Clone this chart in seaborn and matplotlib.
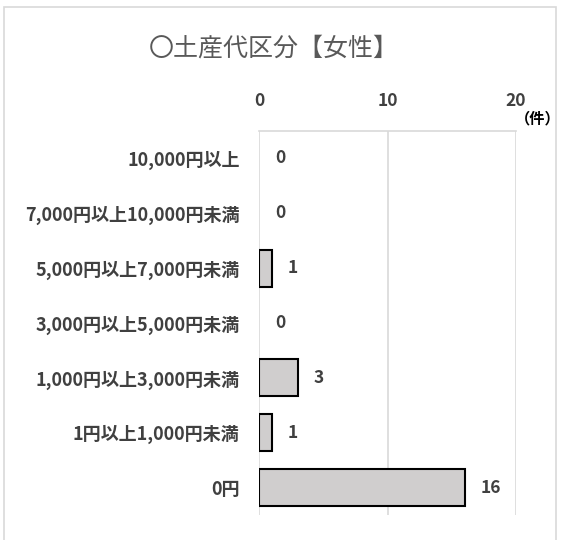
import matplotlib
matplotlib.use("Agg")
import matplotlib.pyplot as plt
import seaborn as sns
import pandas as pd
from matplotlib.patches import Rectangle

categories = ["10,000円以上", "7,000円以上10,000円未満", "5,000円以上7,000円未満",
              "3,000円以上5,000円未満", "1,000円以上3,000円未満", "1円以上1,000円未満", "0円"]
values = [0, 0, 1, 0, 3, 1, 16]
x_ticks = [0, 10, 20]
title = "〇土産代区分【女性】"
unit_label = "（件）"

sns.set_theme(style="white")
plt.rcParams['font.family'] = ['Noto Sans CJK JP', 'DejaVu Sans']

df = pd.DataFrame({"category": categories, "value": values})

fig = plt.figure(figsize=(5.61, 5.40), dpi=100)
ax = fig.add_axes([259/561, 1-515/540, (516-259)/561, (515-131)/540])

sns.barplot(data=df, x="value", y="category", orient="h", ax=ax,
            color="#d0cece", edgecolor="black", linewidth=1.5, width=0.67,
            saturation=1)
for p in ax.patches:
    if p.get_width() == 0:
        p.set_linewidth(0)

ax.set_xlim(0, 20)
ax.set_xticks(x_ticks)
ax.xaxis.tick_top()
ax.tick_params(axis="x", length=0, pad=15, labelsize=12.5, labelcolor="#404040")
ax.tick_params(axis="y", length=0, pad=14, labelsize=13, labelcolor="#404040")
for lab in ax.get_xticklabels() + ax.get_yticklabels():
    lab.set_fontweight("bold")
ax.set_xlabel("")
ax.set_ylabel("")
ax.grid(axis="x", color="#d9d9d9", linewidth=1.2)
ax.set_axisbelow(True)
for s in ["left", "right", "bottom"]:
    ax.spines[s].set_visible(False)
ax.spines["top"].set_color("#d9d9d9")
ax.spines["top"].set_linewidth(1.2)

ax.bar_label(ax.containers[0], labels=[str(v) for v in values], padding=11.5,
             fontsize=12.5, color="#404040", fontweight="bold")

fig.text(274/561, 1-48/540, title, ha="center", va="center", fontsize=18,
         color="#595959")
fig.text(538/561, 1-118/540, unit_label, ha="center", va="center", fontsize=11,
         color="black", fontweight="bold")

fig.patches.append(Rectangle((4/561, -0.05), (556-4)/561, 1.05-7/540,
                             transform=fig.transFigure, fill=False,
                             edgecolor="#d9d9d9", linewidth=1.2))

fig.savefig("out.png", dpi=100)
